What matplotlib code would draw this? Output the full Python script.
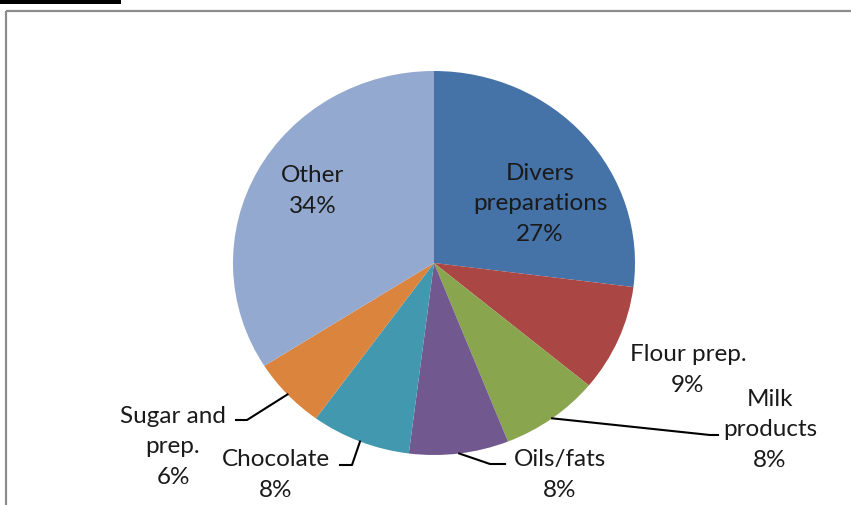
import numpy as np
import matplotlib
matplotlib.use("Agg")
import matplotlib.pyplot as plt
from matplotlib.patches import Rectangle
from matplotlib.lines import Line2D

# ---- data ----
categories = ["Divers\npreparations", "Flour prep.", "Milk\nproducts", "Oils/fats",
              "Chocolate", "Sugar and\nprep.", "Other"]
shares = [27, 9, 8, 8, 8, 6, 34]
colors = ["#4572A7", "#AA4643", "#89A54E", "#71588F", "#4198AF", "#DB843D", "#93A9CF"]

W, H = 851, 506
fig = plt.figure(figsize=(W / 100, H / 100), dpi=100)
fig.patch.set_facecolor("white")

# pie placement (pixels)
cx, cy, rx, ry = 434, 264, 201, 192
pa = fig.add_axes([(cx - rx) / W, 1 - (cy + ry) / H, 2 * rx / W, 2 * ry / H], zorder=1)
wedges, _ = pa.pie(shares, colors=colors, startangle=90, counterclock=False,
                   radius=1.0, wedgeprops=dict(linewidth=0))
pa.set_aspect("auto")
pa.set_xlim(-1, 1)
pa.set_ylim(-1, 1)
pa.axis("off")

# overlay axes in pixel coordinates (on top of the pie)
ov = fig.add_axes([0, 0, 1, 1], zorder=2)
ov.patch.set_alpha(0)
ov.set_xlim(0, W)
ov.set_ylim(H, 0)
ov.axis("off")

# frame & top-left black block
ov.add_line(Line2D([6, W], [12, 12], color="#8C8C8C", lw=1.6, solid_capstyle="butt"))
ov.add_line(Line2D([6, 6], [12, H], color="#8C8C8C", lw=1.6, solid_capstyle="butt"))
ov.add_patch(Rectangle((0, 0), 121, 5, color="black", lw=0))

font = dict(family=["Lato", "DejaVu Sans"], fontsize=17.5, color="#1A1A1A",
            ha="center", va="center", linespacing=1.56)

# label positions (pixel centres)
label_pos = [(540, 204), (688, 370), (770, 430), (560, 475),
             (276, 475), (173, 447), (313, 191)]
# leader geometry: (elbow, end) for labels that need them
leaders = {2: ((710, 436), (718, 436)),
           3: ((490, 465), (505, 465)),
           4: ((352, 466), (340, 466)),
           5: ((247, 421), (236, 421))}

for i, (lab, val) in enumerate(zip(categories, shares)):
    x, y = label_pos[i]
    ov.text(x, y, f"{lab}\n{val}%", **font)
    if i in leaders:
        w = wedges[i]
        mid = np.deg2rad((w.theta1 + w.theta2) / 2)
        sx = cx + rx * np.cos(mid)
        sy = cy - ry * np.sin(mid)
        (ex, ey), (fx, fy) = leaders[i]
        ov.add_line(Line2D([sx, ex, fx], [sy, ey, fy], color="black", lw=1.5))

fig.savefig("out.png", dpi=100, facecolor="white")
